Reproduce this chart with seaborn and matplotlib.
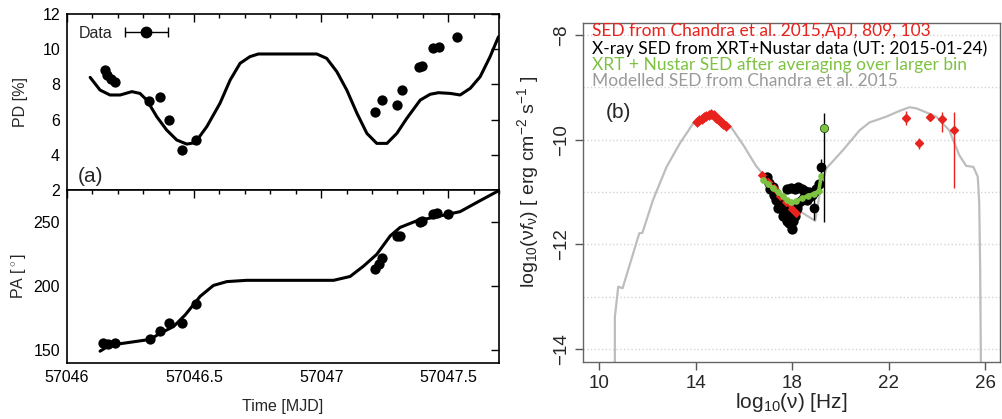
import numpy as np
import matplotlib
matplotlib.use("Agg")
import matplotlib.pyplot as plt
import seaborn as sns
from matplotlib.ticker import MultipleLocator
from matplotlib.container import ErrorbarContainer
from matplotlib.legend_handler import HandlerErrorbar

# ---------------- panel (a): polarisation vs time ----------------
pd_time = [57046.150, 57046.159, 57046.172, 57046.189, 57046.323, 57046.366,
           57046.402, 57046.452, 57046.507, 57047.213, 57047.239, 57047.298,
           57047.318, 57047.386, 57047.396, 57047.442, 57047.462, 57047.534]
pd_vals = [8.82, 8.53, 8.31, 8.12, 7.06, 7.27, 5.98, 4.27, 4.84,
           6.41, 7.11, 6.83, 7.68, 9.01, 9.07, 10.09, 10.14, 10.71]

pa_time = [57046.143, 57046.163, 57046.189, 57046.327, 57046.366, 57046.403,
           57046.452, 57046.507, 57047.213, 57047.226, 57047.239, 57047.298,
           57047.311, 57047.390, 57047.396, 57047.442, 57047.456, 57047.501]
pa_vals = [155.3, 154.7, 155.3, 158.7, 165.0, 171.0, 171.0, 186.0, 213.0,
           217.0, 222.2, 239.2, 239.2, 249.7, 251.0, 256.3, 257.0, 256.3]

pd_model_time = [57046.091, 57046.130, 57046.169, 57046.209, 57046.255, 57046.287,
                 57046.314, 57046.353, 57046.392, 57046.432, 57046.471, 57046.504,
                 57046.550, 57046.602, 57046.642, 57046.681, 57046.720, 57046.753,
                 57046.983, 57047.022, 57047.062, 57047.101, 57047.141, 57047.180,
                 57047.219, 57047.259, 57047.298, 57047.337, 57047.390, 57047.429,
                 57047.462, 57047.508, 57047.547, 57047.587, 57047.626, 57047.665,
                 57047.698]
pd_model_vals = [8.40, 7.68, 7.40, 7.40, 7.59, 7.49, 7.11, 6.17, 5.41, 4.84, 4.61,
                 4.69, 5.60, 6.93, 8.25, 9.20, 9.58, 9.73, 9.73, 9.48, 8.72, 7.68,
                 6.36, 5.22, 4.65, 4.65, 5.22, 6.07, 7.11, 7.44, 7.53, 7.49, 7.40,
                 7.78, 8.44, 9.58, 10.71]

pa_model_time = [57046.130, 57046.169, 57046.261, 57046.327, 57046.366, 57046.419,
                 57046.465, 57046.524, 57046.576, 57046.629, 57046.707, 57047.049,
                 57047.114, 57047.167, 57047.219, 57047.272, 57047.311, 57047.377,
                 57047.442, 57047.547, 57047.626, 57047.700]
pa_model_vals = [149.2, 153.9, 156.5, 158.4, 163.1, 168.4, 177.5, 192.0, 200.5,
                 203.5, 204.5, 204.5, 207.5, 215.6, 224.8, 239.2, 245.8, 251.0,
                 253.6, 258.1, 266.7, 274.6]

time_ticks = [57046, 57046.5, 57047, 57047.5]
time_ticklabels = ["57046", "57046.5", "57047", "57047.5"]

# ---------------- panel (b): SED ----------------
model_lognu = [10.66, 10.66, 10.80, 10.98, 11.67, 11.80, 12.24, 12.80, 13.35, 13.90,
               14.31, 14.70, 15.00, 15.50, 16.00, 16.50, 16.90, 17.30, 17.70, 18.10,
               18.60, 18.95, 19.15, 19.41, 20.10, 20.79, 21.20, 21.89, 22.44, 22.85,
               23.13, 23.40, 23.96, 24.50, 24.92, 25.20, 25.50, 25.68, 25.74, 25.78,
               25.81]
model_lognuf = [-14.30, -13.39, -12.81, -12.84, -11.79, -11.78, -11.15, -10.52, -10.07,
                -9.69, -9.53, -9.50, -9.58, -9.78, -10.12, -10.50, -10.72, -10.95,
                -11.15, -11.30, -11.45, -11.55, -11.00, -10.55, -10.20, -9.82, -9.67,
                -9.56, -9.45, -9.38, -9.40, -9.45, -9.56, -9.82, -10.30, -10.50,
                -10.52, -10.71, -11.20, -12.50, -14.30]

opt_lognu = [14.05, 14.15, 14.25, 14.35, 14.45, 14.55, 14.65, 14.75, 14.85, 14.95,
             15.05, 15.15, 15.25]
opt_lognuf = [-9.66, -9.62, -9.60, -9.57, -9.55, -9.52, -9.50, -9.53, -9.58, -9.63,
              -9.66, -9.70, -9.74]

xrt_lognu = [16.95, 17.05, 17.10, 17.20, 17.25, 17.30, 17.35, 17.45, 17.50, 17.55,
             17.60, 17.65, 17.70, 17.75, 17.80, 17.85, 17.90, 17.95, 18.00, 18.05,
             17.80, 17.95, 18.10, 18.25, 18.40, 18.55, 18.70, 18.10, 18.20, 18.30,
             18.40, 18.50, 18.60, 18.70, 18.80, 18.90, 19.00, 19.10, 17.40, 17.60,
             17.85, 18.00, 18.15]
xrt_lognuf = [-10.72, -10.82, -10.95, -10.90, -11.05, -11.00, -11.15, -11.12, -11.25,
              -11.20, -11.35, -11.30, -11.45, -11.40, -11.55, -11.50, -11.60, -11.40,
              -11.70, -11.55, -10.95, -10.92, -10.95, -10.90, -10.95, -10.98, -11.00,
              -11.45, -11.30, -11.20, -11.15, -11.10, -11.15, -11.10, -11.05, -11.00,
              -10.95, -10.85, -11.30, -11.45, -11.60, -11.50, -11.35]
xrt_err_lognu = [18.90, 19.20]
xrt_err_lognuf = [-11.31, -10.52]
xrt_err_size = [0.22, 0.15]

chandra_x_lognu = [16.75, 17.00, 17.25, 17.50, 17.75, 18.00, 18.15]
chandra_x_lognuf = [-10.68, -10.80, -10.93, -11.07, -11.20, -11.33, -11.40]

gamma_lognu = [22.71, 23.24, 23.71, 24.20, 24.71]
gamma_lognuf = [-9.59, -10.07, -9.56, -9.61, -9.82]
gamma_err_lo = [0.13, 0.10, 0.05, 0.24, 1.11]
gamma_err_hi = [0.13, 0.10, 0.05, 0.14, 0.35]

avg_lognu = [16.80, 17.00, 17.20, 17.40, 17.60, 17.80, 17.95, 18.15, 18.40, 18.65,
             18.90, 19.10, 19.20]
avg_lognuf = [-10.77, -10.85, -10.93, -11.00, -11.08, -11.15, -11.20, -11.18, -11.12,
              -11.07, -11.03, -10.98, -10.70]
avg_top_lognu = [19.30]
avg_top_lognuf = [-9.77]
avg_top_err_lo = [1.80]
avg_top_err_hi = [0.28]

legend_lines = ["SED from Chandra et al. 2015,ApJ, 809, 103",
                "X-ray SED from XRT+Nustar data (UT: 2015-01-24)",
                "XRT + Nustar SED after averaging over larger bin",
                "Modelled SED from Chandra et al. 2015"]

RED = "#e8231d"
GREEN = "#7ec242"
GREY = "#bdbdbd"

sns.set_style("white")
plt.rcParams["font.family"] = ["Liberation Sans", "DejaVu Sans"]
plt.rcParams["mathtext.fontset"] = "custom"
plt.rcParams["mathtext.rm"] = "Liberation Sans"
plt.rcParams["mathtext.it"] = "Liberation Sans:italic"

fig = plt.figure(figsize=(10.02, 4.19), dpi=100)

ax_pd = fig.add_axes([0.0669, 0.5465, 0.4311, 0.4200])
ax_pa = fig.add_axes([0.0669, 0.1337, 0.4311, 0.4129], sharex=ax_pd)

# PD
sns.lineplot(x=pd_model_time, y=pd_model_vals, color="k", lw=2.2, ax=ax_pd,
             sort=False, estimator=None)
sns.scatterplot(x=pd_time, y=pd_vals, color="k", s=55, edgecolor="k", linewidth=0,
                ax=ax_pd, zorder=3)
h = ax_pd.errorbar([np.nan], [np.nan], xerr=[0], fmt="o", color="k", ms=7.5,
                   capsize=3.5, lw=1.0)
ax_pd.legend([h], ["Data"], loc="upper left", frameon=False, markerfirst=False,
             handlelength=3.2, handletextpad=0.5, fontsize=11.5, borderaxespad=0.25,
             borderpad=0.5, handler_map={ErrorbarContainer: HandlerErrorbar(xerr_size=1.35)})
ax_pd.set_ylim(2, 12)
ax_pd.set_yticks([2, 4, 6, 8, 10, 12])
ax_pd.set_ylabel("PD [%]", fontsize=11.5)
ax_pd.yaxis.set_label_coords(-0.09, 0.5)
ax_pd.text(0.025, 0.025, "(a)", transform=ax_pd.transAxes, fontsize=15,
           ha="left", va="bottom")
ax_pd.tick_params(labelbottom=False)

# PA
sns.lineplot(x=pa_model_time, y=pa_model_vals, color="k", lw=2.2, ax=ax_pa,
             sort=False, estimator=None)
sns.scatterplot(x=pa_time, y=pa_vals, color="k", s=55, edgecolor="k", linewidth=0,
                ax=ax_pa, zorder=3)
ax_pa.set_ylim(140, 275)
ax_pa.set_yticks([150, 200, 250])
ax_pa.set_ylabel("PA [$^\\circ$]", fontsize=11.5)
ax_pa.yaxis.set_label_coords(-0.09, 0.5)
ax_pa.set_xlabel("Time [MJD]", fontsize=11.5)
ax_pa.xaxis.set_label_coords(0.5, -0.21)

for ax in (ax_pd, ax_pa):
    ax.set_xlim(57046, 57047.70)
    ax.set_xticks(time_ticks)
    ax.xaxis.set_minor_locator(MultipleLocator(0.1))
    ax.tick_params(which="both", direction="in", top=True, right=True,
                   labelsize=11.5, width=1.0, colors="k")
    ax.tick_params(which="major", length=6, pad=5)
    ax.tick_params(which="minor", length=3)
    for s in ax.spines.values():
        s.set_color("k")
        s.set_linewidth(1.2)
ax_pa.set_xticklabels(time_ticklabels)

# ---------------- panel (b) ----------------
axb = fig.add_axes([0.5818, 0.1360, 0.4162, 0.8090])
axb.set_xlim(9.34, 26.6)
axb.set_ylim(-14.25, -7.77)
axb.yaxis.set_minor_locator(MultipleLocator(1))
axb.grid(axis="y", which="both", ls=":", color="#d4d4d4", lw=1.0)
axb.set_axisbelow(True)

sns.lineplot(x=model_lognu, y=model_lognuf, color=GREY, lw=1.6, ax=axb,
             sort=False, estimator=None, zorder=2)
sns.scatterplot(x=opt_lognu, y=opt_lognuf, color=RED, s=30, marker="D",
                linewidth=0, ax=axb, zorder=3)
sns.scatterplot(x=xrt_lognu, y=xrt_lognuf, color="k", s=55, linewidth=0,
                ax=axb, zorder=3)
axb.errorbar(xrt_err_lognu, xrt_err_lognuf, yerr=xrt_err_size, fmt="o", color="k",
             ms=6, lw=1.0, zorder=3)
sns.lineplot(x=chandra_x_lognu, y=chandra_x_lognuf, color=RED, lw=2.0, marker="D",
             ms=4, mec=RED, ax=axb, sort=False, estimator=None, zorder=4)
sns.lineplot(x=avg_lognu, y=avg_lognuf, color=GREEN, lw=2.6, marker="o", ms=4,
             mec=GREEN, ax=axb, sort=False, estimator=None, zorder=5)
axb.errorbar(avg_top_lognu, avg_top_lognuf, yerr=[avg_top_err_lo, avg_top_err_hi],
             fmt="none", ecolor="k", lw=1.0, zorder=5)
sns.scatterplot(x=avg_top_lognu, y=avg_top_lognuf, color=GREEN, s=35,
                edgecolor="#2f4f1a", linewidth=0.6, ax=axb, zorder=6)
axb.errorbar(gamma_lognu, gamma_lognuf, yerr=[gamma_err_lo, gamma_err_hi],
             xerr=0.13, fmt="D", color=RED, ms=4.5, lw=1.0, zorder=4)

axb.set_xticks([10, 14, 18, 22, 26])
axb.set_yticks([-14, -12, -10, -8])
axb.set_yticklabels(["\u221214", "\u221212", "\u221210", "\u22128"])
axb.tick_params(axis="both", which="major", direction="out", length=6, width=1.0,
                color="#555555", labelsize=13.5, left=True, bottom=True)
axb.tick_params(axis="both", which="minor", length=0)
axb.tick_params(axis="y", labelrotation=90, pad=3)
for lab in axb.get_yticklabels():
    lab.set_va("center")
for s in axb.spines.values():
    s.set_color("#666666")
    s.set_linewidth(1.0)

axb.set_xlabel("log$_{10}$($\\mathrm{\\nu}$) [Hz]", fontsize=15)
axb.xaxis.set_label_coords(0.5, -0.085)
axb.set_ylabel("log$_{10}$($\\mathrm{\\nu} f_{\\mathrm{\\nu}}$) [ erg cm$^{-2}$ s$^{-1}$ ]",
               fontsize=14)
axb.yaxis.set_label_coords(-0.1, 0.53)

leg_colors = [RED, "k", GREEN, "#9a9a9a"]
leg_y = [0.976, 0.924, 0.876, 0.829]
for txt, c, yy in zip(legend_lines, leg_colors, leg_y):
    axb.text(0.022, yy, txt, transform=axb.transAxes, color=c, fontsize=12.5,
             family=["Lato", "DejaVu Sans"], ha="left", va="center")

axb.text(0.055, 0.735, "(b)", transform=axb.transAxes, fontsize=15,
         ha="left", va="center")

fig.savefig("out.png", dpi=100)
